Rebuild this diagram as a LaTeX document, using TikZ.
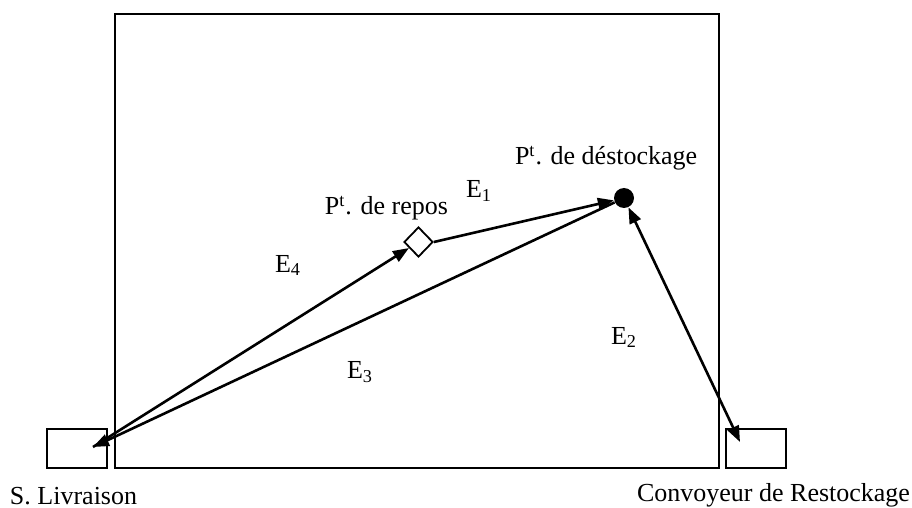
\documentclass[tikz,border=0pt]{standalone}
\usepackage{fontspec}
\setmainfont{Liberation Serif}
\usetikzlibrary{arrows.meta,shapes.geometric}
\tikzset{
  boxline/.style={draw, line width=0.9pt, inner sep=0pt, outer sep=0pt},
  conn/.style={line width=1.3pt, -{Triangle[length=8pt,width=6pt]}},
  biconn/.style={line width=1.3pt, {Triangle[length=8pt,width=6pt]}-{Triangle[length=8pt,width=6pt]}},
  lbl/.style={inner sep=0pt, outer sep=0pt, font=\fontsize{13}{15.5}\selectfont}
}
\begin{document}
\begin{tikzpicture}[x=0.5pt,y=-0.5pt]
\useasboundingbox (0,0) rectangle (912,508);
% main area
\node[boxline, minimum width=302pt, minimum height=227pt] (zone) at (417,241) {};
% small boxes
\node[boxline, minimum width=30pt, minimum height=19.5pt] (liv) at (77,448.5) {};
\node[boxline, minimum width=30pt, minimum height=19.5pt] (conv) at (756,448.5) {};
% points
\node[draw, diamond, line width=0.9pt, fill=white, inner sep=0pt, minimum width=14.5pt, minimum height=15pt] (rep) at (418.5,242) {};
\node[circle, fill=black, inner sep=0pt, minimum size=10pt] (dest) at (624,198) {};
% connector ends
\coordinate (lv) at (93,447);
\coordinate (cv) at (740,442);
% connectors
\draw[conn] (rep.east) -- (dest);
\draw[conn] (dest) -- (lv);
\draw[conn] (lv) -- (rep);
\draw[biconn] (dest) -- (cv);
% labels
\node[lbl, anchor=base west] (tdest) at (515,165) {P\textsuperscript{t}. de déstockage};
\node[lbl, anchor=base east] (trep) at (448,215) {P\textsuperscript{t}. de repos};
\node[lbl, anchor=base west] (e1) at (466,198) {E\textsubscript{1}};
\node[lbl, anchor=base west] (e4) at (275,272) {E\textsubscript{4}};
\node[lbl, anchor=base west] (e3) at (347,379) {E\textsubscript{3}};
\node[lbl, anchor=base west] (e2) at (611,344) {E\textsubscript{2}};
\node[lbl, anchor=base west] (tliv) at (10,504) {S. Livraison};
\node[lbl, anchor=base east] (tconv) at (910,502) {Convoyeur de Restockage};
\end{tikzpicture}
\end{document}
